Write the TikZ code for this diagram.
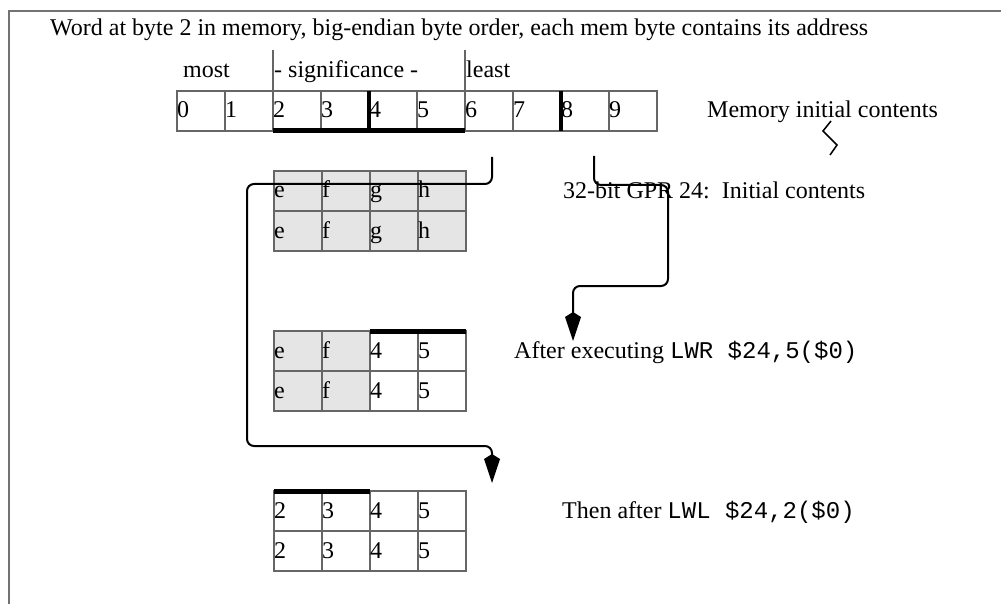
\documentclass[tikz,border=0pt]{standalone}
\usepackage{fontspec}
\setmainfont{Liberation Serif}
\setmonofont{Liberation Mono}
\usetikzlibrary{arrows.meta, positioning}
\tikzset{
  cellbox/.style={
    rectangle, draw=black!60, line width=1.3pt,
    minimum width=48pt, minimum height=40pt,
    inner sep=0pt, outer sep=0pt, anchor=north west
  },
  shaded/.style   = {cellbox, fill=black!10},
  celltxt/.style  = {anchor=base west, inner sep=0pt, font=\fontsize{24}{28}\selectfont},
  caption/.style  = {celltxt},
  divider/.style  = {draw=black!60, line width=1.3pt},
  thickbar/.style = {line width=5pt, black},
  flow/.style     = {line width=2pt, rounded corners=7pt,
                     -{Kite[length=29pt, width=16pt, inset=5pt]}},
  frame/.style    = {line width=2pt, black!55},
}

\begin{document}
\begin{tikzpicture}[x=1pt, y=-1pt]
  \useasboundingbox (0,0) rectangle (1001,604);

  % ── Frame ──────────────────────────────────────────────────────────────────
  \draw[frame] (9,604) -- (9,11) -- (1001,11);

  % ── Title and significance labels ──────────────────────────────────────────
  \node[caption] (title) at (50,36)
    {Word at byte 2 in memory, big-endian byte order, each mem byte contains its address};
  \node[caption] (most)  at (183,78) {most};
  \node[caption] (sig)   at (274,78) {- significance -};
  \node[caption] (least) at (466,78) {least};

  % ── Memory row ─────────────────────────────────────────────────────────────
  \foreach \i in {0,...,9} {
    \node[cellbox] (m\i) at (177+48*\i,91) {};
    \node[celltxt] at ([yshift=-27pt]m\i.north west) {\i};
  }
  \draw[divider] (m2.north west) -- ++(0,-41);
  \draw[divider] (m6.north west) -- ++(0,-41);
  \draw[thickbar] (m2.south west) -- (m5.south east);
  \draw[thickbar, line width=4pt] (m4.north west) -- (m4.south west);
  \draw[thickbar, line width=4pt] (m8.north west) -- (m8.south west);
  \node[caption] (memlbl) at (707,118) {Memory initial contents};
  \draw[line width=1.5pt] (831,121) -- (823,131) -- (837,145) -- (830,155);

  % ── GPR initial contents ───────────────────────────────────────────────────
  \foreach \r in {0,1}
    \foreach \c/\t in {0/e,1/f,2/g,3/h} {
      \node[shaded] (i\r\c) at (274+48*\c,171+40*\r) {};
      \node[celltxt] at ([yshift=-27pt]i\r\c.north west) {\t};
    }
  \node[caption] (gprlbl) at (563,199) {32-bit GPR 24:\ \ Initial contents};

  % ── After LWR ──────────────────────────────────────────────────────────────
  \foreach \r in {0,1}
    \foreach \c/\t/\s in {0/e/shaded,1/f/shaded,2/4/cellbox,3/5/cellbox} {
      \node[\s] (a\r\c) at (274+48*\c,331+40*\r) {};
      \node[celltxt] at ([yshift=-27pt]a\r\c.north west) {\t};
    }
  \draw[thickbar] (a02.north west) -- (a03.north east);
  \node[caption] (lwrlbl) at (514,358) {After executing \texttt{LWR \$24,5(\$0)}};

  % ── After LWL ──────────────────────────────────────────────────────────────
  \foreach \r in {0,1}
    \foreach \c/\t in {0/2,1/3,2/4,3/5} {
      \node[cellbox] (t\r\c) at (274+48*\c,491+40*\r) {};
      \node[celltxt] at ([yshift=-27pt]t\r\c.north west) {\t};
    }
  \draw[thickbar] (t00.north west) -- (t01.north east);
  \node[caption] (lwllbl) at (562,518) {Then after \texttt{LWL \$24,2(\$0)}};

  % ── Flow arrows ────────────────────────────────────────────────────────────
  \coordinate (src6) at (492,157);
  \coordinate (src8) at (594,156);
  \coordinate (dst1) at (492,483);
  \coordinate (dst2) at (573,341);
  \draw[flow] (src6) -- (492,184) -- (247,184) -- (247,446) -- (492,446) -- (dst1);
  \draw[flow] (src8) -- (594,185) -- (668,185) -- (668,286) -- (573,286) -- (dst2);

\end{tikzpicture}
\end{document}
